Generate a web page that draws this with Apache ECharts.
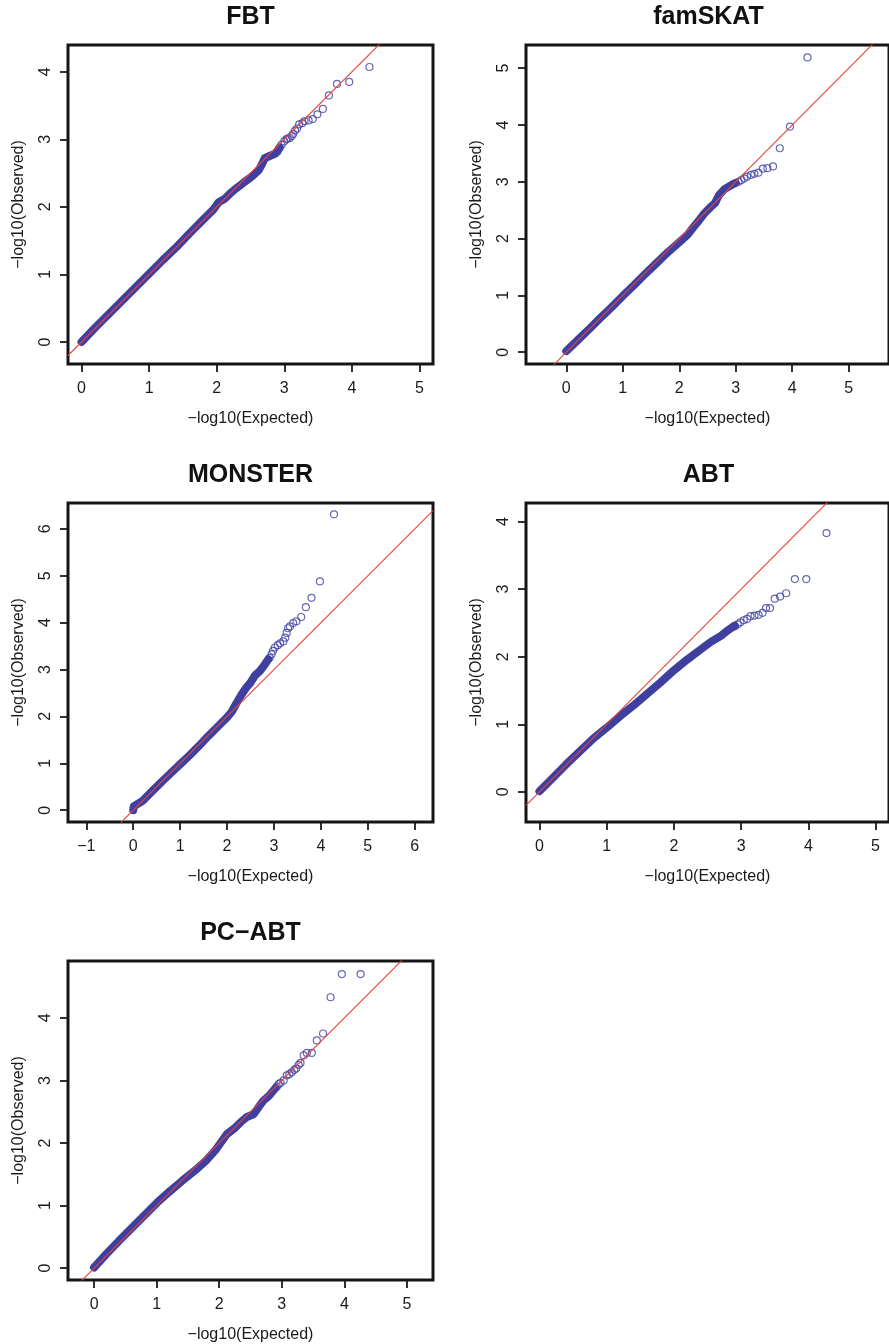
<!DOCTYPE html>
<html><head><meta charset="utf-8">
<script src="https://cdn.jsdelivr.net/npm/echarts@6/dist/echarts.min.js"></script>
<style>html,body{margin:0;padding:0;background:#fff}#c{width:889px;height:1344px}</style>
</head><body><div id="c"></div><script>
// ---------- DATA ----------
const panelTitles = ['FBT', 'famSKAT', 'MONSTER', 'ABT', 'PC\u2212ABT'];

// FBT
const fbtBandExpected = [0.00,0.20,0.40,0.60,0.80,1.00,1.20,1.40,1.60,1.80,1.95,2.03,2.12,2.20,2.26,2.40,2.52,2.62,2.67,2.71,2.80,2.87,2.93];
const fbtBandObserved = [0.00,0.21,0.41,0.61,0.81,1.01,1.21,1.40,1.61,1.81,1.96,2.07,2.12,2.20,2.25,2.36,2.45,2.54,2.63,2.72,2.76,2.79,2.88];
const fbtPointExpected = [2.90,2.93,2.96,3.00,3.03,3.05,3.08,3.11,3.13,3.16,3.19,3.22,3.27,3.30,3.36,3.42,3.49,3.57,3.66,3.78,3.96,4.26];
const fbtPointObserved = [2.82,2.87,2.92,2.97,3.00,3.01,3.02,3.05,3.08,3.13,3.16,3.22,3.24,3.27,3.28,3.30,3.37,3.45,3.65,3.82,3.85,4.07];

// famSKAT
const famBandExpected = [0.00,0.20,0.40,0.60,0.80,1.00,1.20,1.40,1.60,1.80,1.95,2.05,2.15,2.25,2.35,2.45,2.55,2.63,2.70,2.80,2.92,3.00];
const famBandObserved = [0.02,0.21,0.40,0.60,0.79,0.99,1.18,1.38,1.57,1.76,1.89,1.98,2.07,2.20,2.32,2.45,2.55,2.62,2.76,2.87,2.94,2.98];
const famPointExpected = [3.05,3.10,3.15,3.20,3.27,3.33,3.40,3.48,3.56,3.66,3.78,3.96,4.27];
const famPointObserved = [3.00,3.03,3.06,3.09,3.12,3.14,3.16,3.23,3.24,3.27,3.59,3.97,5.19];

// MONSTER
const monBandExpected = [0.00,0.01,0.20,0.40,0.60,0.80,1.00,1.20,1.40,1.60,1.80,2.00,2.10,2.20,2.30,2.40,2.50,2.60,2.70,2.80,2.88];
const monBandObserved = [0.00,0.08,0.20,0.40,0.60,0.79,0.98,1.17,1.37,1.58,1.78,1.98,2.10,2.28,2.45,2.60,2.72,2.88,2.97,3.10,3.22];
const monPointExpected = [2.91,2.95,2.98,3.02,3.08,3.13,3.20,3.24,3.27,3.30,3.34,3.41,3.48,3.58,3.68,3.80,3.98,4.28];
const monPointObserved = [3.25,3.33,3.40,3.47,3.52,3.56,3.60,3.68,3.78,3.88,3.92,3.99,4.03,4.12,4.33,4.53,4.88,6.31];

// ABT
const abtBandExpected = [0.00,0.20,0.40,0.60,0.80,1.00,1.20,1.40,1.60,1.80,2.00,2.20,2.40,2.55,2.70,2.80,2.90];
const abtBandObserved = [0.01,0.21,0.41,0.60,0.79,0.95,1.12,1.28,1.45,1.62,1.80,1.96,2.11,2.22,2.31,2.39,2.46];
const abtPointExpected = [2.91,2.95,2.99,3.04,3.09,3.14,3.20,3.26,3.32,3.37,3.43,3.50,3.58,3.67,3.80,3.97,4.27];
const abtPointObserved = [2.45,2.48,2.51,2.54,2.56,2.60,2.61,2.62,2.65,2.72,2.72,2.86,2.89,2.94,3.15,3.15,3.83];

// PC-ABT
const pcBandExpected = [0.00,0.20,0.40,0.60,0.80,1.00,1.20,1.40,1.60,1.80,1.95,2.05,2.12,2.25,2.35,2.45,2.55,2.62,2.70,2.80,2.90];
const pcBandObserved = [0.01,0.23,0.44,0.64,0.84,1.04,1.22,1.39,1.55,1.73,1.90,2.04,2.14,2.24,2.34,2.42,2.46,2.56,2.67,2.76,2.88];
const pcPointExpected = [2.92,2.95,2.98,3.03,3.08,3.12,3.16,3.20,3.23,3.27,3.30,3.35,3.40,3.48,3.56,3.66,3.78,3.96,4.26];
const pcPointObserved = [2.90,2.94,2.96,3.00,3.08,3.10,3.13,3.17,3.19,3.25,3.28,3.40,3.44,3.44,3.64,3.75,4.33,4.70,4.70];

// tick values
const xTicksA = [0,1,2,3,4,5];
const xTicksMonster = [-1,0,1,2,3,4,5,6];
const yTicks4 = [0,1,2,3,4];
const yTicks5 = [0,1,2,3,4,5];
const yTicks6 = [0,1,2,3,4,5,6];

// ---------- LAYOUT ----------
const W = 365, H = 319;
const panels = [
  {title: panelTitles[0], left: 68,  top: 45,  x: [-0.2, 5.2],     y: [-0.326, 4.396], xt: xTicksA, yt: yTicks4,
   be: fbtBandExpected, bo: fbtBandObserved, pe: fbtPointExpected, po: fbtPointObserved},
  {title: panelTitles[1], left: 526, top: 45,  x: [-0.713, 5.713], y: [-0.208, 5.408], xt: xTicksA, yt: yTicks5,
   be: famBandExpected, bo: famBandObserved, pe: famPointExpected, po: famPointObserved},
  {title: panelTitles[2], left: 68,  top: 503, x: [-1.39, 6.39],   y: [-0.252, 6.552], xt: xTicksMonster, yt: yTicks6,
   be: monBandExpected, bo: monBandObserved, pe: monPointExpected, po: monPointObserved},
  {title: panelTitles[3], left: 526, top: 503, x: [-0.2, 5.2],     y: [-0.445, 4.275], xt: xTicksA, yt: yTicks4,
   be: abtBandExpected, bo: abtBandObserved, pe: abtPointExpected, po: abtPointObserved},
  {title: panelTitles[4], left: 68,  top: 961, x: [-0.417, 5.417], y: [-0.189, 4.909], xt: xTicksA, yt: yTicks4,
   be: pcBandExpected, bo: pcBandObserved, pe: pcPointExpected, po: pcPointObserved}
];

const FONT = '"Liberation Sans", Arial, Helvetica, sans-serif';
const TXT = '#1a1a1a';
const PT = '#4141a3';
const fmt = v => (v < 0 ? '\u2212' + Math.abs(v) : String(v));
const zip = (a, b) => a.map((v, i) => [v, b[i]]);

const option = {
  backgroundColor: '#ffffff',
  animation: false,
  title: panels.map(p => ({
    text: p.title, left: p.left + W / 2, top: p.top - 40, textAlign: 'center', padding: 0,
    textStyle: {fontSize: 25, fontWeight: 'bold', color: '#111', fontFamily: FONT}
  })),
  grid: panels.map(p => ({
    left: p.left, top: p.top, width: W, height: H, show: true,
    borderColor: '#151515', borderWidth: 3, backgroundColor: 'rgba(0,0,0,0)'
  })),
  xAxis: panels.map((p, i) => ({
    gridIndex: i, type: 'value', min: p.x[0], max: p.x[1],
    axisLine: {show: true, onZero: false, lineStyle: {color: '#151515', width: 1}}, splitLine: {show: false},
    axisTick: {show: true, length: 8, customValues: p.xt, lineStyle: {color: '#1a1a1a', width: 1.8}},
    axisLabel: {customValues: p.xt, formatter: fmt, fontSize: 16, color: TXT, fontFamily: FONT, margin: 17},
    name: '\u2212log10(Expected)', nameLocation: 'middle', nameGap: 47,
    nameTextStyle: {fontSize: 16, color: TXT, fontFamily: FONT}
  })),
  yAxis: panels.map((p, i) => ({
    gridIndex: i, type: 'value', min: p.y[0], max: p.y[1],
    axisLine: {show: true, onZero: false, lineStyle: {color: '#151515', width: 1}}, splitLine: {show: false},
    axisTick: {show: true, length: 8, customValues: p.yt, lineStyle: {color: '#1a1a1a', width: 1.8}},
    axisLabel: {customValues: p.yt, formatter: fmt, rotate: 90, fontSize: 16, color: TXT, fontFamily: FONT, margin: 14},
    name: '\u2212log10(Observed)', nameLocation: 'middle', nameGap: 41,
    nameTextStyle: {fontSize: 16, color: TXT, fontFamily: FONT}
  })),
  series: []
};

panels.forEach((p, i) => {
  option.series.push({
    type: 'line', xAxisIndex: i, yAxisIndex: i, data: zip(p.be, p.bo),
    symbol: 'none', silent: true, z: 2,
    lineStyle: {color: '#3f3f9f', width: 8, cap: 'round', join: 'round'}
  });
  option.series.push({
    type: 'scatter', xAxisIndex: i, yAxisIndex: i, data: zip(p.pe, p.po),
    symbol: 'circle', symbolSize: 7, silent: true, z: 3,
    itemStyle: {color: 'rgba(0,0,0,0)', borderColor: PT, borderWidth: 1.2}
  });
  option.series.push({
    type: 'line', xAxisIndex: i, yAxisIndex: i,
    data: [[p.x[0], p.x[0]], [p.x[1], p.x[1]]],
    symbol: 'none', silent: true, z: 4, clip: true,
    lineStyle: {color: '#e2463b', width: 1.1}
  });
});

const chart = echarts.init(document.getElementById('c'));
chart.setOption(option);
</script></body></html>
